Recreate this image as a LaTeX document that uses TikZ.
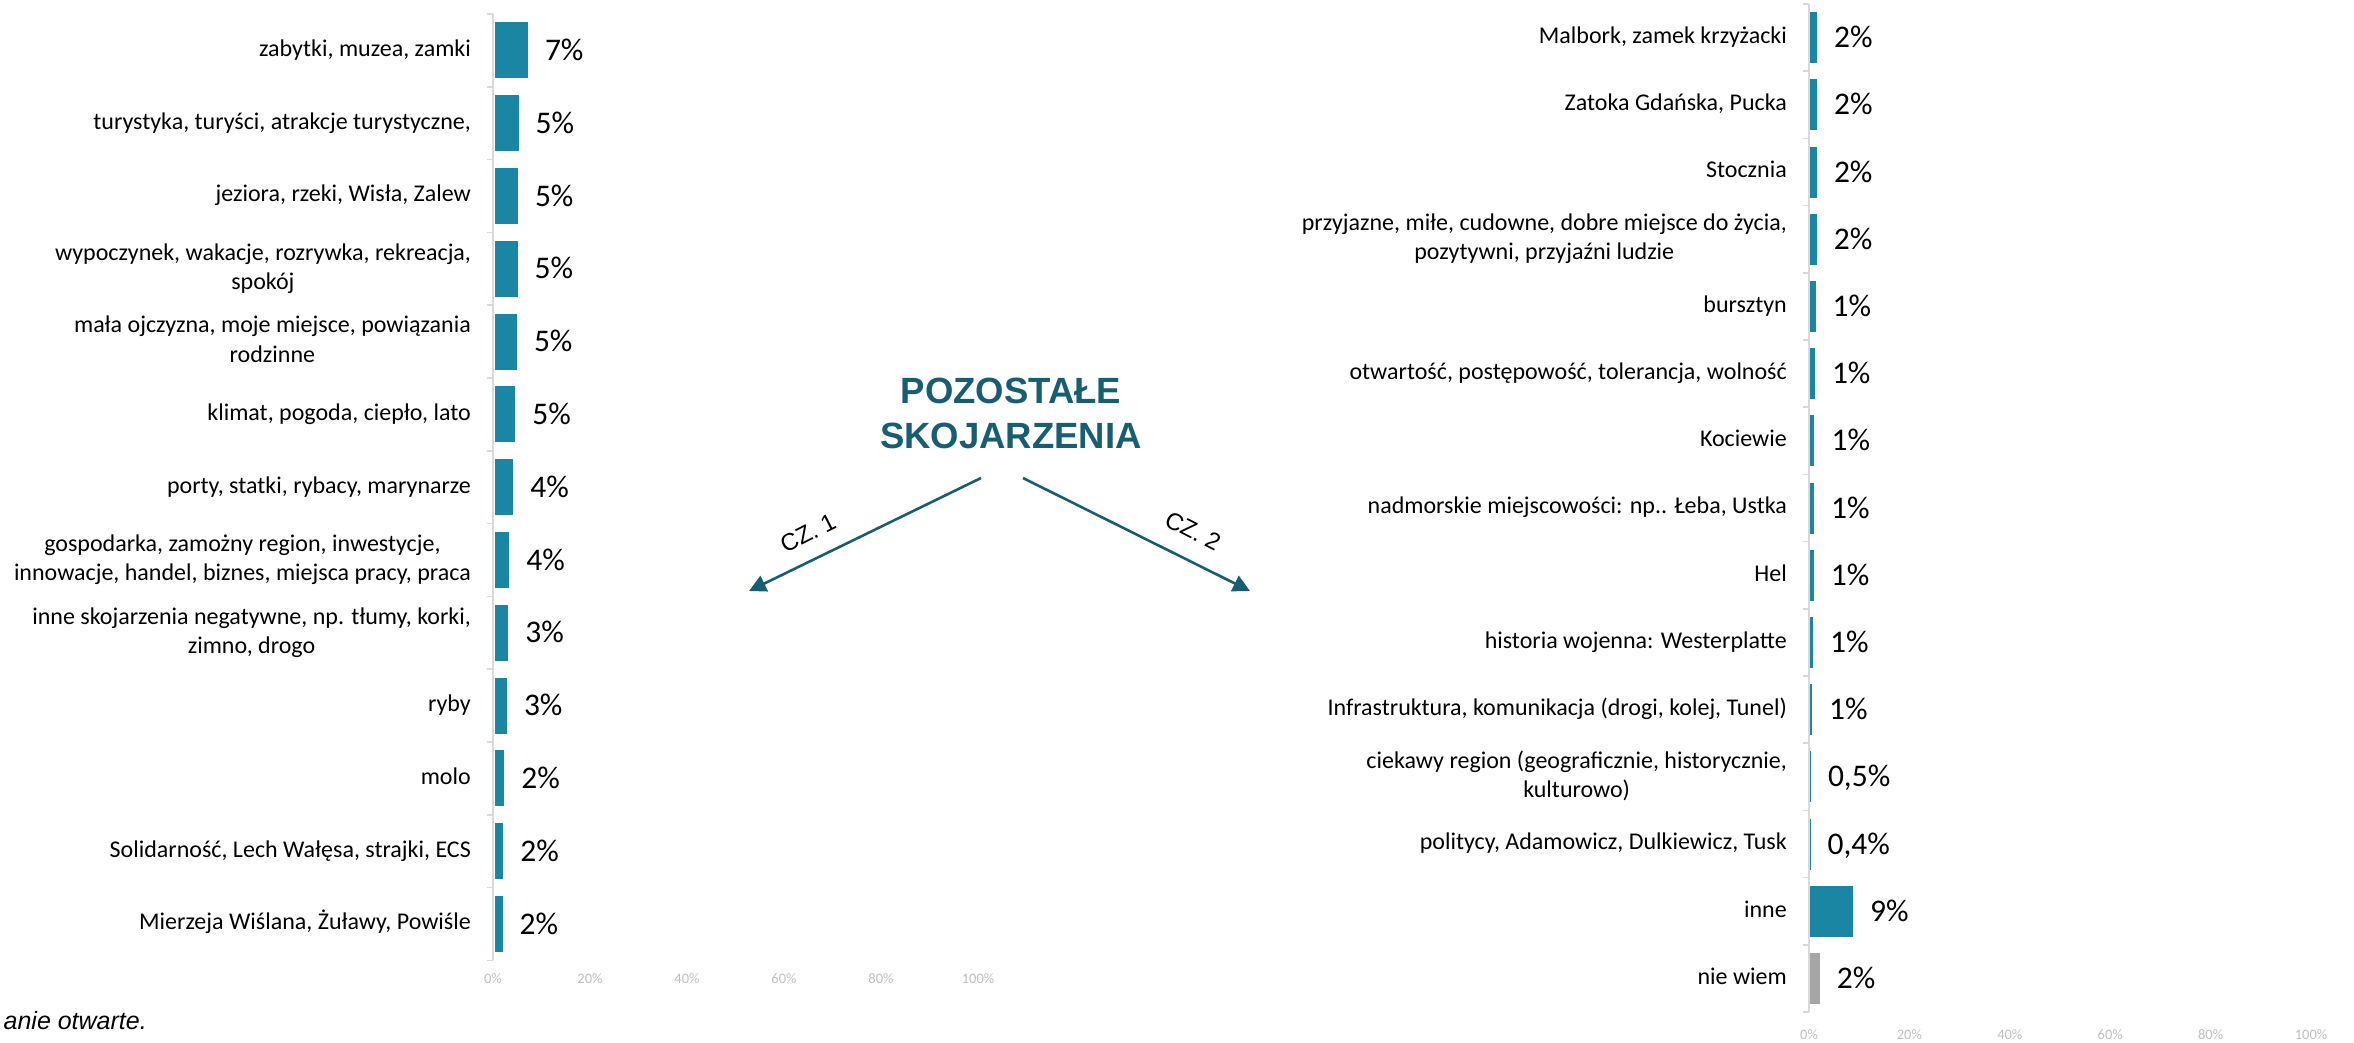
\documentclass[tikz,border=0pt]{standalone}
\usepackage{fontspec}
\setmainfont{Carlito}
\newfontfamily\arialfont{Liberation Sans}
\usetikzlibrary{arrows.meta}
\definecolor{barteal}{HTML}{1A86A4}
\definecolor{titleteal}{HTML}{175E73}
\definecolor{axisgray}{HTML}{D9D9D9}
\definecolor{ticktext}{HTML}{BFBFBF}
\definecolor{nwgray}{HTML}{A6A6A6}
\begin{document}
\begin{tikzpicture}[x=1pt,y=-1pt,
  catlabel/.style={anchor=east, inner sep=0pt, align=center, font=\fontsize{24}{29.3}\selectfont},
  pctlabel/.style={anchor=west, inner sep=0pt, text height=20pt, text depth=0pt, font=\fontsize{31.5}{37}\selectfont},
  axislabel/.style={inner sep=0pt, text=ticktext, font=\fontsize{14.5}{17}\selectfont},
  axisline/.style={draw=axisgray, line width=1.5pt},
  titletext/.style={anchor=base, inner sep=0pt, text=titleteal, font=\arialfont\bfseries\fontsize{36.5}{44}\selectfont},
  pointer/.style={draw=titleteal, line width=2.6pt, -{Triangle[length=17pt,width=17pt]}},
  czlabel/.style={inner sep=0pt, font=\arialfont\fontsize{24}{28}\selectfont},
]
\useasboundingbox (0,0) rectangle (2354,1042);

% ---------------- left chart ----------------
\draw[axisline] (493,14) -- (493,960);
\foreach \k in {0,...,13}{
  \draw[axisline] (487,{14+72.8*\k}) -- (493,{14+72.8*\k});
}
\foreach \i/\w/\p/\t in {
  1/33.3/7\%/{zabytki, muzea, zamki},
  2/24/5\%/{turystyka, turyści, atrakcje turystyczne,},
  3/23.3/5\%/{jeziora, rzeki, Wisła, Zalew},
  4/23/5\%/{\strut wypoczynek, wakacje, rozrywka, rekreacja,\\\strut spokój},
  5/22.3/5\%/{\strut mała ojczyzna, moje miejsce, powiązania\\\strut rodzinne},
  6/20.7/5\%/{klimat, pogoda, ciepło, lato},
  7/18.7/4\%/{porty, statki, rybacy, marynarze},
  8/14.7/4\%/{\strut gospodarka, zamożny region, inwestycje,\\\strut innowacje, handel, biznes, miejsca pracy, praca},
  9/13.7/3\%/{\strut inne skojarzenia negatywne, np. tłumy, korki,\\\strut zimno, drogo},
  10/12.3/3\%/{ryby},
  11/9.7/2\%/{molo},
  12/8.7/2\%/{Solidarność, Lech Wałęsa, strajki, ECS},
  13/8/2\%/{Mierzeja Wiślana, Żuławy, Powiśle}}{
  \pgfmathsetmacro\yc{14+72.8*(\i-0.5)}
  \fill[barteal] (494.5,\yc-28) rectangle (494.5+\w,\yc+28);
  \node[catlabel] (llab\i) at (471,\yc) {\strut\t};
  \node[pctlabel] (lpct\i) at (494.5+\w+17,\yc) {\p};
}
\foreach \k/\v in {0/0,1/20,2/40,3/60,4/80,5/100}{
  \node[axislabel] (lax\k) at (493+97*\k,979) {\v\%};
}

% ---------------- right chart ----------------
\draw[axisline] (1809,4) -- (1809,1012);
\foreach \k in {0,...,15}{
  \draw[axisline] (1803,{4+67.2*\k}) -- (1809,{4+67.2*\k});
}
\foreach \i/\w/\p/\c/\t in {
  1/7/2\%/barteal/{Malbork, zamek krzyżacki},
  2/7/2\%/barteal/{Zatoka Gdańska, Pucka},
  3/6.8/2\%/barteal/{Stocznia},
  4/6.6/2\%/barteal/{\strut przyjazne, miłe, cudowne, dobre miejsce do życia,\\\strut pozytywni, przyjaźni ludzie},
  5/5.5/1\%/barteal/{bursztyn},
  6/4.8/1\%/barteal/{otwartość, postępowość, tolerancja, wolność},
  7/4.4/1\%/barteal/{Kociewie},
  8/4/1\%/barteal/{nadmorskie miejscowości: np.. Łeba, Ustka},
  9/3.7/1\%/barteal/{Hel},
  10/3/1\%/barteal/{historia wojenna: Westerplatte},
  11/2/1\%/barteal/{Infrastruktura, komunikacja (drogi, kolej, Tunel)},
  12/0.8/{0,5\%}/barteal/{\strut ciekawy region (geograficznie, historycznie,\\\strut kulturowo)},
  13/0.4/{0,4\%}/barteal/{politycy, Adamowicz, Dulkiewicz, Tusk},
  14/43/9\%/barteal/{inne},
  15/9.6/2\%/nwgray/{nie wiem}}{
  \pgfmathsetmacro\yc{4+67.2*(\i-0.5)}
  \fill[\c] (1810,\yc-25.5) rectangle (1810+\w,\yc+25.5);
  \node[catlabel] (rlab\i) at (1787,\yc) {\strut\t};
  \node[pctlabel] (rpct\i) at (1810+\w+17,\yc) {\p};
}
\foreach \k/\v in {0/0,1/20,2/40,3/60,4/80,5/100}{
  \node[axislabel] (rax\k) at (1809+100.4*\k,1035) {\v\%};
}

% ---------------- title and pointers ----------------
\node[titletext] (titleA) at (1011,403) {POZOSTAŁE};
\node[titletext] (titleB) at (1011,448) {SKOJARZENIA};
\coordinate (startL) at (981,478);
\coordinate (endL) at (749,591);
\coordinate (startR) at (1023,478);
\coordinate (endR) at (1250,591);
\draw[pointer] (startL) -- (endL);
\draw[pointer] (startR) -- (endR);
\node[czlabel, rotate=27] (cz1) at (808,533) {CZ. 1};
\node[czlabel, rotate=-27] (cz2) at (1193,531) {CZ. 2};

% ---------------- footnote ----------------
\node[anchor=base east, inner sep=0pt, font=\arialfont\itshape\fontsize{25}{30}\selectfont] (note) at (147,1029) {anie otwarte.};
\end{tikzpicture}
\end{document}
